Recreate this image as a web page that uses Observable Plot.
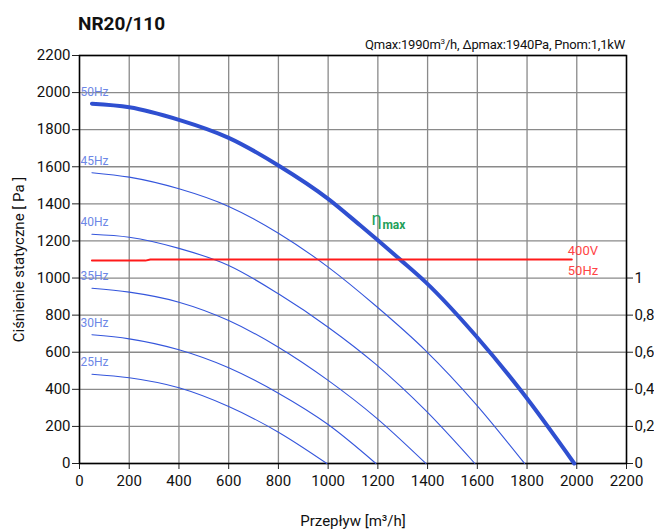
<!DOCTYPE html>
<html><head><meta charset="utf-8">
<script src="https://cdn.jsdelivr.net/npm/d3@7"></script>
<script src="https://cdn.jsdelivr.net/npm/@observablehq/plot@0.6"></script>
<style>
body{margin:0;background:#fff;}
#wrap{position:relative;width:654px;height:530px;font-family:Roboto,"DejaVu Sans",sans-serif;color:#111;}
#title{position:absolute;left:78px;top:12px;font:bold 19px Roboto,"Liberation Sans",sans-serif;}
#note{position:absolute;right:29px;top:37px;font-size:13px;white-space:nowrap;letter-spacing:-0.2px;}
#note sup{font-size:8px;}
#wrap svg{position:absolute;left:0;top:0;}
</style></head><body>
<div id="wrap"><div id="title">NR20/110</div><div id="note">Qmax:1990m<sup>3</sup>/h, Δpmax:1940Pa, Pnom:1,1kW</div></div>
<script>
const FONT = 'Roboto,"DejaVu Sans",sans-serif';
const flowTicks = [0,200,400,600,800,1000,1200,1400,1600,1800,2000,2200];
const pressureTicks = [0,200,400,600,800,1000,1200,1400,1600,1800,2000,2200];
const rightTicks = [0,0.2,0.4,0.6,0.8,1];

const freqLabels = ["50Hz","45Hz","40Hz","35Hz","30Hz","25Hz"];
const q50 = [50,200,400,600,800,1000,1130,1291,1392,1593,1780,1990];
const p50 = [1940,1921,1853,1756,1607,1427,1283,1098,978,690,385,0];
const q45 = [50,200,400,600,800,1000,1190,1392,1593,1790];
const p45 = [1568,1544,1481,1386,1242,1059,852,609,322,0];
const q40 = [50,200,400,600,800,1000,1190,1392,1590];
const p40 = [1236,1220,1160,1068,915,735,537,286,0];
const q35 = [50,200,400,600,800,1000,1190,1393];
const p35 = [945,924,870,771,627,448,250,0];
const q30 = [50,200,400,600,800,1000,1192];
const p30 = [694,672,613,516,379,210,0];
const q25 = [50,200,400,600,800,995];
const p25 = [481,462,408,307,169,0];

const redQ = [50,265,285,1980];
const redP = [1094,1094,1100,1100];
const redLabels = ["400V","50Hz"];

const qs = [q50,q45,q40,q35,q30,q25];
const ps = [p50,p45,p40,p35,p30,p25];
const curves = freqLabels.map((f,i)=>qs[i].map((q,j)=>({f,q,p:ps[i][j]})));
const thick = curves[0];
const thin = curves.slice(1).flat();
const starts = curves.map(c=>c[0]);
const red = redQ.map((q,i)=>({q,p:redP[i]}));
const redEnd = red[red.length-1];

const fmtR = d => String(d/1000).replace(".",",");
const fmt = d => String(d);

const chart = Plot.plot({
  width:654, height:530,
  marginLeft:79, marginRight:28, marginTop:55, marginBottom:67,
  style:{fontFamily:FONT, fontSize:"15px", color:"#111", background:"transparent", overflow:"visible"},
  x:{domain:[0,2200]},
  y:{domain:[0,2200]},
  marks:[
    Plot.gridX(flowTicks,{stroke:"#8a8a8a", strokeOpacity:1, strokeWidth:1.3}),
    Plot.gridY(pressureTicks,{stroke:"#8a8a8a", strokeOpacity:1, strokeWidth:1.3}),
    Plot.axisX(flowTicks,{tickSize:6, tickPadding:6, stroke:"#222", tickFormat:fmt, label:"Przepływ [m³/h]", labelAnchor:"center", labelArrow:"none", labelOffset:62, fontSize:15}),
    Plot.axisY(pressureTicks,{anchor:"left", tickSize:7, tickPadding:2, stroke:"#222", tickFormat:fmt, label:"Ciśnienie statyczne [ Pa ]", labelAnchor:"center", labelArrow:"none", labelOffset:66, fontSize:15}),
    Plot.axisY(rightTicks.map(v=>v*1000),{anchor:"right", tickSize:6, tickPadding:2, stroke:"#222", tickFormat:fmtR, label:null, fontSize:15}),
    Plot.frame({stroke:"#000", strokeWidth:1.5}),
    Plot.line(thin,{x:"q", y:"p", z:"f", stroke:"#3556dc", strokeWidth:1.1, curve:"monotone-x"}),
    Plot.line(thick,{x:"q", y:"p", stroke:"#2f4fd0", strokeWidth:4, curve:"monotone-x"}),
    Plot.line(red,{x:"q", y:"p", stroke:"#ff1a1a", strokeWidth:2}),
    Plot.text(starts,{x:0, y:"p", text:"f", textAnchor:"start", dx:1, dy:-12, fill:"#6d87e6", fontSize:12}),
    Plot.text([redEnd],{x:"q", y:"p", text:()=>redLabels[0], textAnchor:"start", dx:-4, dy:-9, fill:"#ff4444", fontSize:13}),
    Plot.text([redEnd],{x:"q", y:"p", text:()=>redLabels[1], textAnchor:"start", dx:-4, dy:11, fill:"#ff4444", fontSize:13}),
    Plot.text([thick[6]],{x:"q", y:"p", text:()=>"η", textAnchor:"start", dx:11, dy:-6, fill:"#22a05a", fontSize:18}),
    Plot.text([thick[6]],{x:"q", y:"p", text:()=>"max", textAnchor:"start", dx:22, dy:0, fill:"#22a05a", fontSize:12, fontWeight:"bold"})
  ]
});
document.getElementById("wrap").prepend(chart);
</script>
</body></html>
